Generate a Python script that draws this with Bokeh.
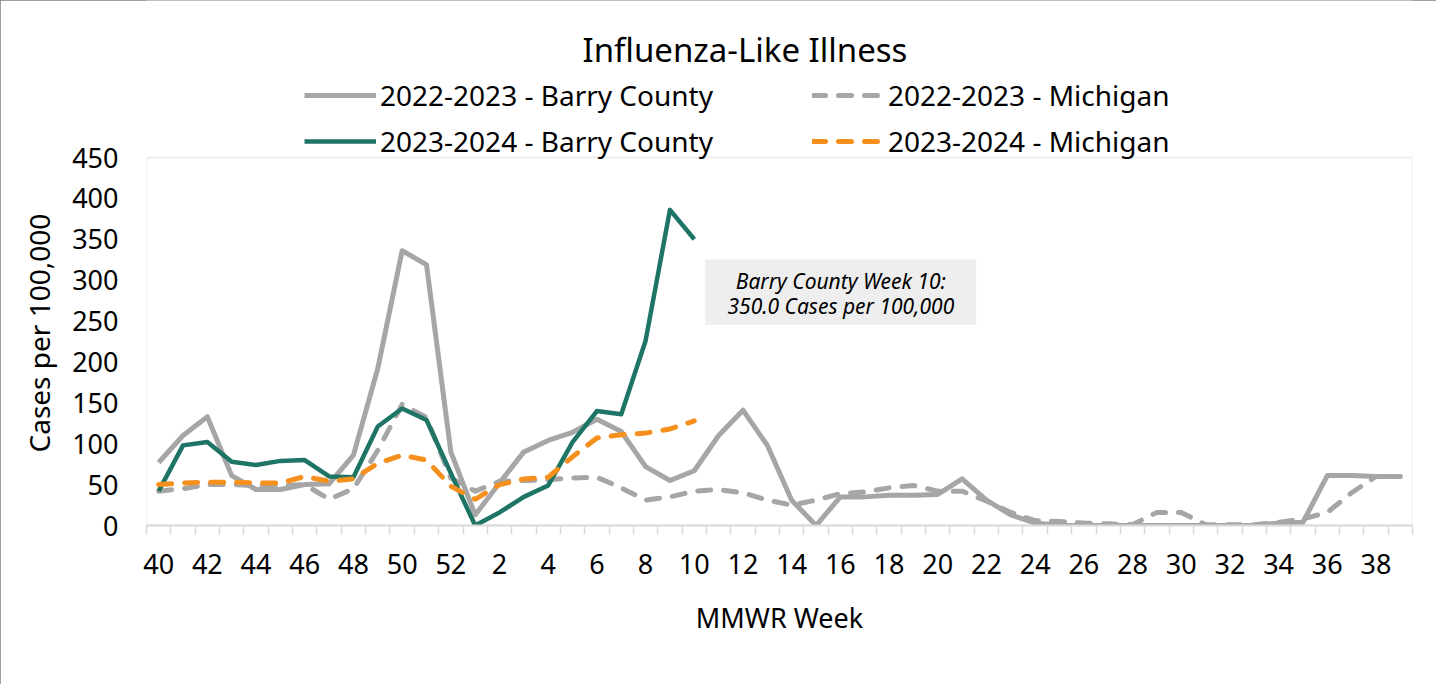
import numpy as np
from bokeh.plotting import figure
from bokeh.models import (Range1d, FixedTicker, Legend, LegendItem, Label,
                          BoxAnnotation, Title)
from bokeh.embed import file_html
from bokeh.resources import INLINE

weeks = list(range(40, 53)) + list(range(1, 40))

barry_2223 = [77, 110, 133, 61, 44, 44, 50, 51, 86, 192, 336, 319, 90,
              13, 52, 90, 104, 114, 130, 115, 72, 55, 67, 110, 141, 98, 31, 0,
              35, 35, 37, 37, 38, 57, 31, 13, 3, 0, 0, 0, 0, 0, 0, 0, 0, 0,
              3, 4, 61, 61, 60, 60]
michigan_2223 = [42, 45, 50, 50, 49, 49, 50, 32, 45, 92, 148, 132, 58,
                 42, 54, 55, 56, 58, 59, 46, 31, 35, 42, 44, 40, 31, 25, 31,
                 39, 41, 46, 49, 42, 42, 30, 16, 6, 5, 3, 2, 1, 16, 16, 1, 1, 1,
                 4, 8, 16, 40, 60, 60]
barry_2324 = [42, 98, 102, 78, 74, 79, 80, 60, 59, 121, 143, 129, 64,
              0, 16, 35, 49, 102, 140, 136, 226, 386, 350]
michigan_2324 = [50, 52, 53, 53, 52, 52, 60, 54, 57, 76, 86, 80, 48,
                 32, 50, 57, 59, 84, 107, 111, 113, 118, 128]

series_labels = ["2022-2023 - Barry County", "2022-2023 - Michigan",
                 "2023-2024 - Barry County", "2023-2024 - Michigan"]
y_ticks = list(range(0, 451, 50))
note_lines = ["Barry County Week 10:", "350.0 Cases per 100,000"]
chart_title = "Influenza-Like Illness"

FONT = "Noto Sans"
GRAY = "#A6A6A6"
GREEN = "#1E7565"
ORANGE = "#F5901E"

Y_MAX = 450
Y_TOP = 642.0   # frame extends above the plot area to host title and legend

x_all = np.arange(len(weeks)) + 0.5

p = figure(width=1436, height=684, output_backend="svg", toolbar_location=None,
           title=None,
           x_range=Range1d(0, len(weeks)), y_range=Range1d(0, Y_TOP),
           min_border_left=146, min_border_right=24, min_border_bottom=159,
           min_border_top=0)
p.styles = {"outline": "1px solid #808080", "outline-offset": "-1px"}
p.outline_line_color = None
p.xgrid.visible = False
p.ygrid.visible = False

# plot-area border
p.add_layout(BoxAnnotation(left=0, right=len(weeks), bottom=0, top=Y_MAX,
                           fill_alpha=0, line_color="#C8C8C8", line_width=2,
                           level="underlay"))

r1 = p.line(x_all, barry_2223, line_color=GRAY, line_width=5, line_join="round")
r2 = p.line(x_all, michigan_2223, line_color=GRAY, line_width=5, line_dash="13 13",
            line_cap="round", line_join="round")
r3 = p.line(x_all[:len(barry_2324)], barry_2324, line_color=GREEN, line_width=4.5,
            line_join="round")
r4 = p.line(x_all[:len(michigan_2324)], michigan_2324, line_color=ORANGE, line_width=5,
            line_dash="13 13", line_cap="round", line_join="round")

# x axis
ticks = [float(x_all[i]) for i in range(0, len(weeks), 2)]
p.xaxis.ticker = FixedTicker(ticks=ticks, minor_ticks=list(range(0, len(weeks) + 1)))
p.xaxis.major_label_overrides = {float(x_all[i]): str(weeks[i]) for i in range(0, len(weeks), 2)}
p.xaxis.major_tick_line_color = None
p.xaxis.major_tick_out = 0
p.xaxis.major_tick_in = 0
p.xaxis.minor_tick_out = 9
p.xaxis.minor_tick_in = 0
p.xaxis.minor_tick_line_color = "#D9D9D9"
p.xaxis.minor_tick_line_width = 1.5
p.xaxis.major_label_standoff = 19
p.xaxis.axis_label = "MMWR Week"
p.xaxis.axis_label_standoff = 22
p.xaxis.axis_line_color = "#D9D9D9"
p.xaxis.axis_line_width = 2

# y axis
p.yaxis.ticker = FixedTicker(ticks=y_ticks)
p.yaxis.major_tick_line_color = None
p.yaxis.minor_tick_line_color = None
p.yaxis.major_tick_out = 0
p.yaxis.major_tick_in = 0
p.yaxis.major_label_standoff = 28
p.yaxis.axis_line_color = None

for ax in (p.xaxis[0], p.yaxis[0]):
    ax.major_label_text_font = FONT
    ax.major_label_text_font_size = "27px"
    ax.major_label_text_color = "#000000"
    ax.axis_label_text_font = FONT
    ax.axis_label_text_font_size = "27px"
    ax.axis_label_text_font_style = "normal"
    ax.axis_label_text_color = "#000000"

ytitle = Title(text="Cases per 100,000", align="left", offset=73,
               text_font=FONT, text_font_size="28px", text_font_style="normal",
               text_color="#000000", standoff=24)
p.add_layout(ytitle, "left")

# chart title
p.add_layout(Label(x=24.58, y=582.5, text=chart_title, text_align="center",
                   text_baseline="middle", text_font=FONT, text_font_size="33px",
                   text_color="#000000"))

# annotation box
p.add_layout(BoxAnnotation(left=22.95, right=34.08, bottom=245.3, top=325.4,
                           fill_color="#EEEEEE", fill_alpha=1, line_color=None,
                           level="underlay"))
p.add_layout(Label(x=28.52, y=299, text=note_lines[0], text_align="center",
                   text_baseline="middle", text_font=FONT, text_font_size="21px",
                   text_font_style="italic", text_color="#000000"))
p.add_layout(Label(x=28.52, y=268.5, text=note_lines[1], text_align="center",
                   text_baseline="middle", text_font=FONT, text_font_size="21px",
                   text_font_style="italic", text_color="#000000"))

def make_legend(items, loc):
    return Legend(items=items, orientation="horizontal", location=loc,
                  spacing=99, padding=0, margin=0, border_line_color=None,
                  background_fill_alpha=0, label_text_font=FONT,
                  label_text_font_size="28px", label_text_color="#000000",
                  glyph_width=72, glyph_height=38, label_height=38,
                  label_standoff=4)

leg1 = make_legend([LegendItem(label=series_labels[0], renderers=[r1]),
                    LegendItem(label=series_labels[1], renderers=[r2])], (158, 411))
leg2 = make_legend([LegendItem(label=series_labels[2], renderers=[r3]),
                    LegendItem(label=series_labels[3], renderers=[r4])], (158, 365))
p.add_layout(leg1)
p.add_layout(leg2)

open("out.html", "w").write(file_html(p, INLINE))
